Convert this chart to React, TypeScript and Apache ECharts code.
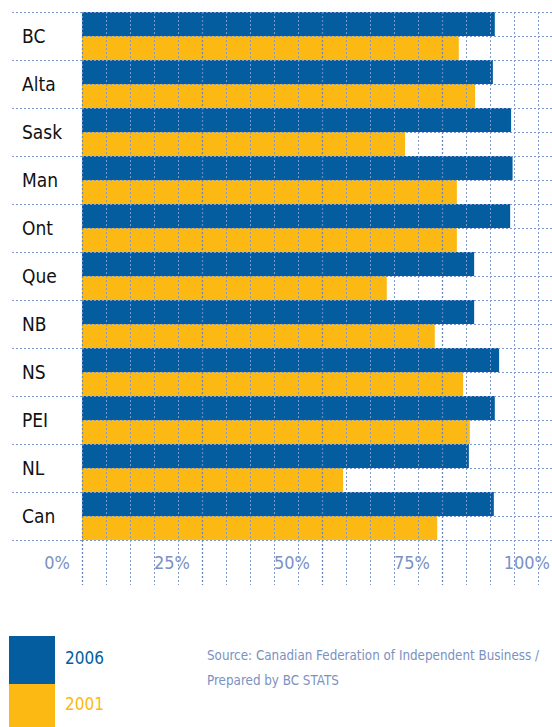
import React, { useEffect, useRef } from "react";
import * as echarts from "echarts";

const categories = ["BC", "Alta", "Sask", "Man", "Ont", "Que", "NB", "NS", "PEI", "NL", "Can"];
const seriesNames = ["2006", "2001"];
const values2006 = [86.0, 85.6, 89.4, 89.7, 89.2, 81.7, 81.7, 86.9, 86.0, 80.6, 85.8];
const values2001 = [78.5, 81.9, 67.3, 78.1, 78.1, 63.5, 73.5, 79.4, 80.8, 54.4, 74.0];
const xTickValues = [0, 25, 50, 75, 100];
const sourceLines = ["Source: Canadian Federation of Independent Business /", "Prepared by BC STATS"];

const BLUE = "#035d9f";
const YELLOW = "#fdb913";
const GRID = "#7f9ad0";
const GRID_MAJOR = "#6a86c0";
const LABEL = "#7b91c2";
const FONT = "'DejaVu Sans Condensed', 'Liberation Sans Narrow', sans-serif";

export default function App() {
  const ref = useRef<HTMLDivElement>(null);
  useEffect(() => {
    if (!ref.current) return;
    const chart = echarts.init(ref.current, null, { renderer: "svg" });
    const halfRows = categories.flatMap((c) => seriesNames.map((s) => c + " " + s));
    const dotted = { color: GRID, width: 1, type: [2, 2] as any };
    const dottedMajor = { color: GRID_MAJOR, width: 1.3, type: [2, 2] as any };
    chart.setOption({
      animation: false,
      grid: { left: 82, top: 12, width: 480, height: 528, containLabel: false, outerBoundsMode: "none" },
      xAxis: {
        type: "value",
        min: 0,
        max: 100,
        interval: 25,
        z: 10,
        axisLine: { show: false },
        axisTick: { show: true, length: 45, lineStyle: dottedMajor },
        minorTick: { show: true, splitNumber: 5, length: 45, lineStyle: dotted },
        splitLine: { show: true, lineStyle: dottedMajor },
        minorSplitLine: { show: true, lineStyle: dotted },
        axisLabel: {
          formatter: (v: number) => (xTickValues.includes(v) ? v + "%" : ""),
          align: "right",
          verticalAlign: "top",
          padding: [0, 12, 0, 0],
          margin: 13,
          fontSize: 18,
          color: LABEL,
          fontFamily: FONT,
        },
      },
      yAxis: [
        {
          type: "category",
          data: categories,
          inverse: true,
          z: 10,
          axisLine: { show: false },
          axisTick: { show: true, length: 72, lineStyle: dotted },
          axisLabel: { align: "left", margin: 60, fontSize: 19, color: "#111", fontFamily: FONT },
          splitLine: { show: true, lineStyle: dotted },
        },
        {
          type: "category",
          data: halfRows,
          inverse: true,
          position: "left",
          z: 10,
          axisLine: { show: false },
          axisTick: { show: false },
          axisLabel: { show: false },
          splitLine: { show: true, lineStyle: dotted },
        },
      ],
      series: [
        { name: seriesNames[0], type: "bar", yAxisIndex: 0, data: values2006, barWidth: 24, barGap: "0%", itemStyle: { color: BLUE } },
        { name: seriesNames[1], type: "bar", yAxisIndex: 0, data: values2001, barWidth: 24, barGap: "0%", itemStyle: { color: YELLOW } },
      ],
      graphic: [
        { type: "rect", left: 9, top: 636, shape: { width: 46, height: 48 }, style: { fill: BLUE } },
        { type: "rect", left: 9, top: 684, shape: { width: 46, height: 43 }, style: { fill: YELLOW } },
        { type: "text", x: 65, y: 658, style: { text: seriesNames[0], fill: BLUE, fontSize: 17, fontFamily: FONT, verticalAlign: "middle" } },
        { type: "text", x: 65, y: 704, style: { text: seriesNames[1], fill: YELLOW, fontSize: 17, fontFamily: FONT, verticalAlign: "middle" } },
        { type: "text", x: 207, y: 655, style: { text: sourceLines[0], fill: LABEL, fontSize: 13.3, fontFamily: FONT, verticalAlign: "middle" } },
        { type: "text", x: 207, y: 680, style: { text: sourceLines[1], fill: LABEL, fontSize: 13.3, fontFamily: FONT, verticalAlign: "middle" } },
      ],
    });
    return () => chart.dispose();
  }, []);
  return <div ref={ref} style={{ position: "absolute", left: 0, top: 0, width: 552, height: 727 }} />;
}
